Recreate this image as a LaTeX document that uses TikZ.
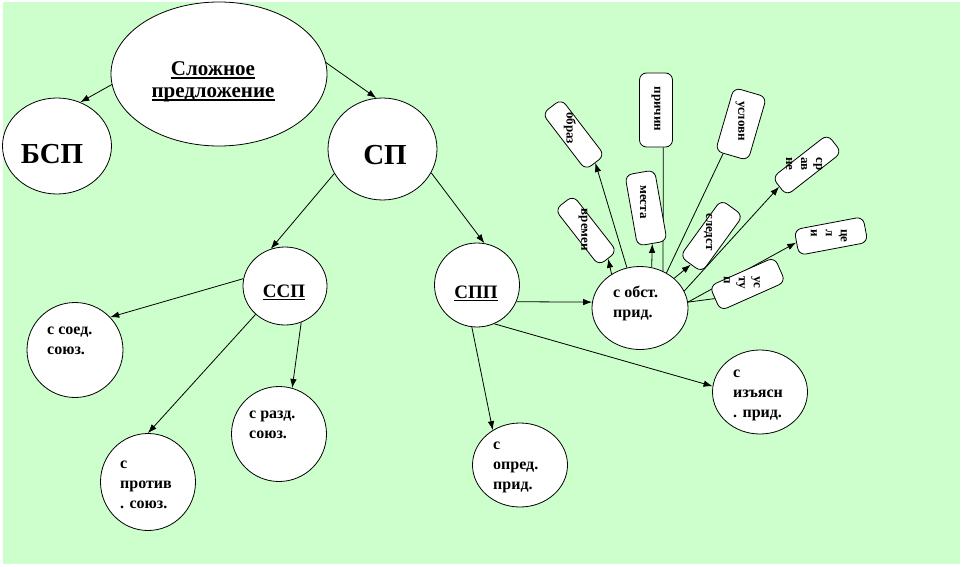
\documentclass[tikz,border=0pt]{standalone}
\usepackage{fontspec}
\setmainfont{Liberation Serif}
\usepackage{tikz}
\usetikzlibrary{arrows.meta,shapes.geometric}

\definecolor{bggreen}{RGB}{204,255,204}
\pgfdeclarelayer{bg}
\pgfdeclarelayer{wires}
\pgfsetlayers{bg,wires,main}

\newsavebox{\ulbox}
\newcommand{\undl}[1]{\sbox{\ulbox}{#1}\rlap{\rule[-.17em]{\wd\ulbox}{.09em}}\usebox{\ulbox}}

\begin{document}
\begin{tikzpicture}[
    x=1pt,y=-1pt,
    bubble/.style={draw,ellipse,fill=white,inner sep=0,line width=.8pt},
    petal/.style={draw,rectangle,rounded corners=7pt,fill=white,inner sep=0,line width=.8pt},
    big/.style={font=\fontsize{29}{32}\selectfont\bfseries,anchor=base,inner sep=0},
    mid/.style={font=\fontsize{19}{22}\selectfont\bfseries,anchor=base,inner sep=0},
    lab/.style={font=\fontsize{16}{20}\selectfont\bfseries,align=left,anchor=west,inner sep=0},
    ptext/.style={font=\fontsize{13}{15}\selectfont\bfseries,align=left,rotate=-90,inner sep=0},
    arr/.style={draw,line width=.8pt,-{Latex[length=9pt,width=6.5pt]}},
    ln/.style={draw,line width=.8pt}
  ]
  \useasboundingbox (0,0) rectangle (963,567);
  \begin{pgfonlayer}{bg}
    \fill[white] (0,0) rectangle (963,567);
    \fill[bggreen] (3,2) rectangle (960,564);
  \end{pgfonlayer}

  % top levels
  \node[bubble,minimum width=216pt,minimum height=144pt] (slozh) at (219,74) {};
  \node[font=\fontsize{21}{22}\selectfont\bfseries,align=center,inner sep=0] (slozh-t) at (213,82)
    {\undl{Сложное}\\\undl{предложение}};
  \coordinate (slozh-l) at (195,38);
  \coordinate (slozh-r) at (291,38);

  \node[bubble,minimum width=109pt,minimum height=96pt] (bsp) at (57,146) {};
  \node[big] (bsp-t) at (52,163) {БСП};
  \node[bubble,minimum width=109pt,minimum height=102pt] (sp) at (382.5,149) {};
  \node[big] (sp-t) at (385,164) {СП};

  % ССП
  \node[bubble,minimum width=84pt,minimum height=78pt] (ssp) at (285,286) {};
  \node[mid] (ssp-t) at (284,297) {\undl{ССП}};
  \node[bubble,minimum width=96pt,minimum height=95pt] (soed) at (75,350) {};
  \node[lab] (soed-t) at (47,341) {с соед.\\союз.};
  \node[bubble,minimum width=95pt,minimum height=97pt] (protiv) at (148,482) {};
  \node[lab] (protiv-t) at (120,485) {с\\против\\. союз.};
  \node[bubble,minimum width=95pt,minimum height=95pt] (razd) at (279,434) {};
  \node[lab] (razd-t) at (249,425) {с разд.\\союз.};

  % СПП
  \node[bubble,minimum width=85pt,minimum height=84pt] (spp) at (477,285) {};
  \node[mid] (spp-t) at (476,298) {\undl{СПП}};
  \node[bubble,minimum width=96pt,minimum height=83pt] (obst) at (640,308) {};
  \node[lab] (obst-t) at (613,303) {с обст.\\прид.};
  \node[bubble,minimum width=95pt,minimum height=84pt] (izyasn) at (760,392) {};
  \node[lab] (izyasn-t) at (733,395) {с\\изъясн\\. прид.};
  \node[bubble,minimum width=95pt,minimum height=84pt] (opred) at (520,465) {};
  \node[lab] (opred-t) at (493,467) {с\\опред.\\прид.};

  % petals
  \node[petal,minimum width=71pt,minimum height=24pt,rotate=-52.5] (obraz) at (573.5,134.5) {};
  \node[ptext] (obraz-t) at (570,128) {образ};
  \node[petal,minimum width=71pt,minimum height=23pt,rotate=-52] (vremen) at (586,230.5) {};
  \node[ptext] (vremen-t) at (583,230) {времен};
  \node[petal,minimum width=72pt,minimum height=30pt,rotate=-80] (mesta) at (646,208) {};
  \node[ptext] (mesta-t) at (643,202) {места};
  \node[petal,minimum width=74pt,minimum height=33pt,rotate=-90] (prichin) at (656,110) {};
  \node[ptext] (prichin-t) at (656,109) {причин};
  \node[petal,minimum width=66pt,minimum height=34pt,rotate=73.8] (uslovn) at (741,124) {};
  \node[ptext] (uslovn-t) at (740,121) {условн};
  \node[petal,minimum width=70pt,minimum height=27pt,rotate=54] (sledst) at (711.5,236) {};
  \node[ptext] (sledst-t) at (708,232) {следст};
  \node[petal,minimum width=70pt,minimum height=23pt,rotate=38] (sravne) at (807,165) {};
  \node[ptext] (sravne-t) at (804,164) {ср\\ав\\не};
  \node[petal,minimum width=70pt,minimum height=26pt,rotate=10.7] (tseli) at (831,236) {};
  \node[ptext] (tseli-t) at (829,236) {це\\л\\и};
  \node[petal,minimum width=71pt,minimum height=27pt,rotate=24] (ustup) at (747.5,284) {};
  \node[ptext] (ustup-t) at (742,283) {ус\\ту\\п};

  \begin{pgfonlayer}{wires}
    \path[arr] (slozh-l) -- (bsp.62);
    \path[arr] (slozh-r) -- (sp.97);
    \path[arr] (sp.207) -- (ssp.111);
    \path[arr] (sp.-26) -- (spp.80);

    \path[arr] (ssp.170) -- (soed.43);
    \path[arr] (ssp.224) -- (protiv.north);
    \path[arr] (ssp.-66) -- (razd.74);

    \path[arr] (spp.-23) -- (obst.173);
    \path[arr] (spp.-66) -- (izyasn.173);
    \path[arr] (spp.-97) -- (opred.128);

    \path[arr] (obst.108) -- (obraz.east);
    \path[arr] (obst.130) -- (vremen.east);
    \path[arr] (obst.74) -- (mesta.east);
    \path[ln] (obst.58) -- (prichin.11);
    \path[ln] (obst.53) -- (uslovn.165);
    \path[arr] (obst.41) -- (sledst.west);
    \path[arr] (obst.21) -- (sravne.west);
    \path[arr] (obst.7) -- (tseli.west);
    \path[ln] (obst.7) -- (ustup.west);
  \end{pgfonlayer}
\end{tikzpicture}
\end{document}
